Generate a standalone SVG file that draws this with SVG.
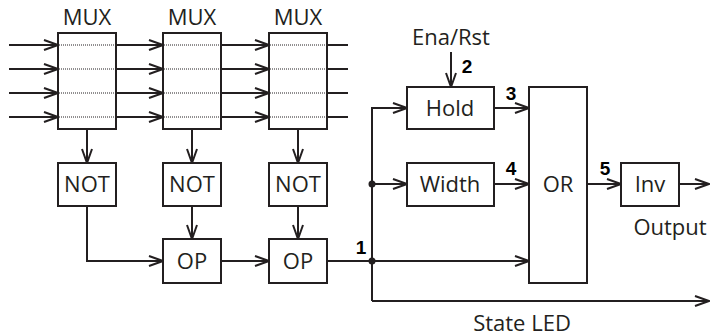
<svg xmlns="http://www.w3.org/2000/svg" width="710" height="336" viewBox="0 0 710 336">
<style>
.box{fill:#fff;stroke:#231f20;stroke-width:2}
.ln{fill:none;stroke:#231f20;stroke-width:2}
.arr{marker-end:url(#ah)}
.dot{fill:none;stroke:#231f20;stroke-width:1;stroke-dasharray:1 1}
.t{font-family:"Open Sans","DejaVu Sans",sans-serif;font-size:22px;fill:#231f20;text-anchor:middle}
.n{font-family:"Liberation Sans",Arial,sans-serif;font-size:19px;font-weight:bold;fill:#000;text-anchor:middle}
</style>
<defs>
<marker id="ah" viewBox="0 0 16 12" refX="15" refY="6" markerWidth="16" markerHeight="12" markerUnits="userSpaceOnUse" orient="auto">
<path d="M1,1 L15,6 L1,11" fill="none" stroke="#231f20" stroke-width="2"/>
</marker>
</defs>
<g id="connectors">
<path class="ln arr" d="M9,45H58"/><path class="ln arr" d="M9,69H58"/><path class="ln arr" d="M9,93H58"/><path class="ln arr" d="M9,117H58"/>
<path class="ln arr" d="M116,45H163"/><path class="ln arr" d="M116,69H163"/><path class="ln arr" d="M116,93H163"/><path class="ln arr" d="M116,117H163"/>
<path class="ln arr" d="M221,45H269"/><path class="ln arr" d="M221,69H269"/><path class="ln arr" d="M221,93H269"/><path class="ln arr" d="M221,117H269"/>
<path class="ln" d="M327,45H348M327,69H348M327,93H348M327,117H348"/>
<path class="ln arr" d="M87,129V163"/>
<path class="ln arr" d="M192,129V163"/>
<path class="ln arr" d="M298,129V163"/>
<path class="ln arr" d="M192,206V239"/>
<path class="ln arr" d="M298,206V239"/>
<path class="ln arr" d="M87,206V261H163"/>
<path class="ln arr" d="M221,261H269"/>
<path class="ln" d="M327,261H372"/>
<path class="ln arr" d="M372,261H529"/>
<path class="ln arr" d="M372,301V108H407"/>
<path class="ln arr" d="M372,301H709"/>
<path class="ln arr" d="M372,184H407"/>
<path class="ln arr" d="M451,52V87"/>
<path class="ln arr" d="M494,108H529"/>
<path class="ln arr" d="M494,184H529"/>
<path class="ln arr" d="M587,184H621"/>
<path class="ln arr" d="M679,184H709"/>
<circle cx="372" cy="184" r="3.5" fill="#231f20"/>
<circle cx="372" cy="261" r="3.5" fill="#231f20"/>
<text class="n" x="361" y="254">1</text>
<text class="n" x="467" y="73">2</text>
<text class="n" x="511" y="100">3</text>
<text class="n" x="511" y="175">4</text>
<text class="n" x="605" y="175">5</text>
</g>
<g id="mux1"><rect class="box" x="58" y="33" width="58" height="96"/><path class="dot" d="M59,45H115M59,69H115M59,93H115M59,117H115"/><text class="t" x="87" y="25">MUX</text></g>
<g id="mux2"><rect class="box" x="163" y="33" width="58" height="96"/><path class="dot" d="M164,45H220M164,69H220M164,93H220M164,117H220"/><text class="t" x="192" y="25">MUX</text></g>
<g id="mux3"><rect class="box" x="269" y="33" width="58" height="96"/><path class="dot" d="M270,45H326M270,69H326M270,93H326M270,117H326"/><text class="t" x="298" y="25">MUX</text></g>
<g id="not1"><rect class="box" x="58" y="163" width="58" height="43"/><text class="t" x="87" y="192">NOT</text></g>
<g id="not2"><rect class="box" x="163" y="163" width="58" height="43"/><text class="t" x="192" y="192">NOT</text></g>
<g id="not3"><rect class="box" x="269" y="163" width="58" height="43"/><text class="t" x="298" y="192">NOT</text></g>
<g id="op1"><rect class="box" x="163" y="239" width="58" height="44"/><text class="t" x="192" y="269">OP</text></g>
<g id="op2"><rect class="box" x="269" y="239" width="58" height="44"/><text class="t" x="298" y="269">OP</text></g>
<g id="hold"><rect class="box" x="407" y="87" width="87" height="42"/><text class="t" x="450" y="116">Hold</text></g>
<g id="enarst"><text class="t" x="451" y="45">Ena/Rst</text></g>
<g id="width"><rect class="box" x="407" y="163" width="87" height="43"/><text class="t" x="450" y="192">Width</text></g>
<g id="or"><rect class="box" x="529" y="87" width="58" height="196"/><text class="t" x="558" y="192">OR</text></g>
<g id="inv"><rect class="box" x="621" y="163" width="58" height="43"/><text class="t" x="650" y="192">Inv</text></g>
<g id="output"><text class="t" x="670" y="235">Output</text></g>
<g id="stateled"><text class="t" x="522" y="331">State LED</text></g>
</svg>
